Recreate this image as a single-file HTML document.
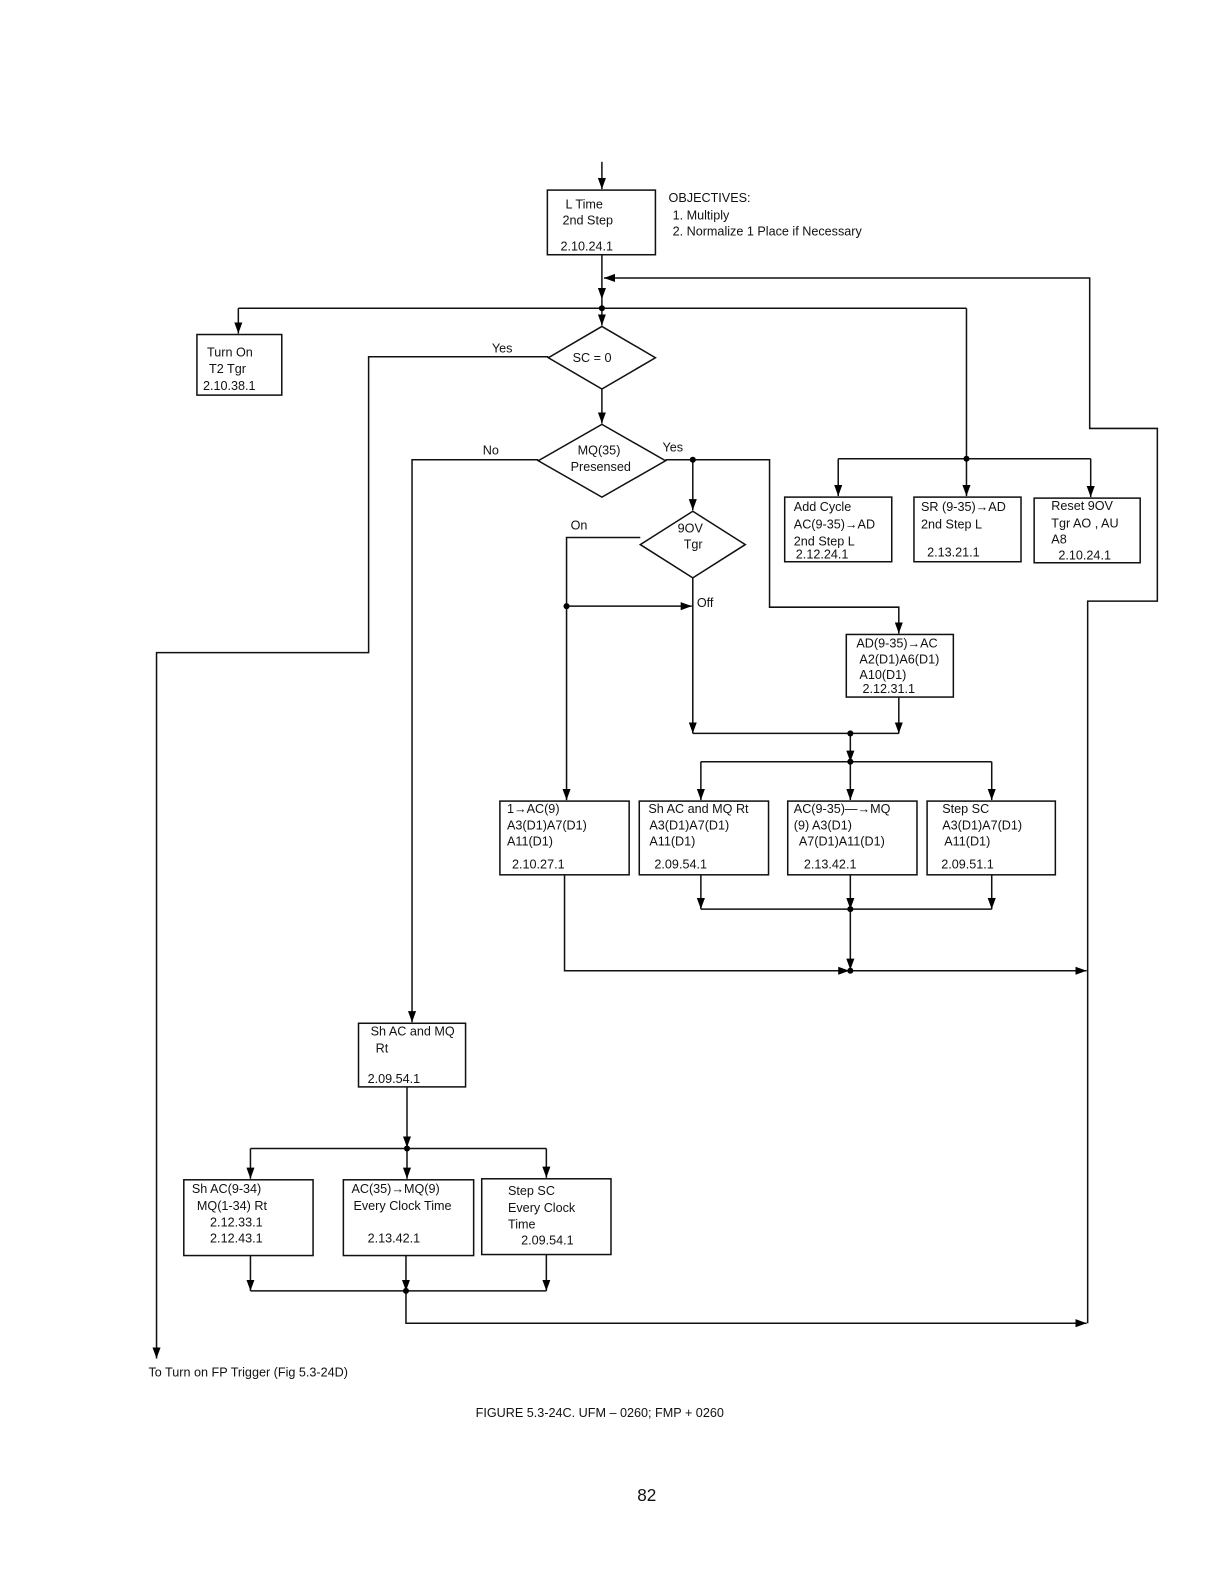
<!DOCTYPE html>
<html><head><meta charset="utf-8"><style>
html,body{margin:0;padding:0;background:#fff;}
svg{display:block;}
text{font-family:"Liberation Sans","DejaVu Sans",sans-serif;font-size:12.5px;fill:#111;}
</style></head><body>
<svg width="1224" height="1584" viewBox="0 0 1212 1568" xmlns="http://www.w3.org/2000/svg">
<defs>
<marker id="a" markerUnits="userSpaceOnUse" markerWidth="12" markerHeight="10" refX="11" refY="5" orient="auto">
<path d="M0,1 L11,5 L0,9 Z" fill="#000"/></marker>
</defs>
<g fill="none" stroke="#111" stroke-width="1.5">
<!-- top -->
<line x1="596" y1="160" x2="596" y2="187" marker-end="url(#a)"/>
<rect x="542" y="188" width="107" height="64"/>
<line x1="596" y1="252" x2="596" y2="296" marker-end="url(#a)"/>
<line x1="596" y1="296" x2="596" y2="322" marker-end="url(#a)"/>
<!-- loop from right -->
<polyline points="1077,1310 1077,595 1146,595 1146,424 1079,424 1079,275 598,275" marker-end="url(#a)"/>
<!-- horizontal y=305 -->
<line x1="236" y1="305" x2="957" y2="305"/>
<line x1="236" y1="305" x2="236" y2="330" marker-end="url(#a)"/>
<rect x="195" y="331" width="84" height="60"/>
<line x1="957" y1="305" x2="957" y2="454"/>
<polyline points="830,454 1080,454"/>
<line x1="830" y1="454" x2="830" y2="491" marker-end="url(#a)"/>
<line x1="957" y1="454" x2="957" y2="491" marker-end="url(#a)"/>
<line x1="1080" y1="454" x2="1080" y2="492" marker-end="url(#a)"/>
<rect x="777" y="492" width="106" height="64"/>
<rect x="905" y="492" width="106" height="64"/>
<rect x="1024" y="493" width="105" height="64"/>
<!-- SC=0 -->
<polygon points="596,323 649,354 596,385 543,354"/>
<polyline points="543,353 365,353 365,646 155,646 155,1345" marker-end="url(#a)"/>
<line x1="596" y1="385" x2="596" y2="419" marker-end="url(#a)"/>
<!-- MQ -->
<polygon points="596,420 659,456 596,492 533,456"/>
<polyline points="533,455 408,455 408,1012" marker-end="url(#a)"/>
<polyline points="659,455 762,455 762,601 890,601 890,627" marker-end="url(#a)"/>
<line x1="686" y1="455" x2="686" y2="505" marker-end="url(#a)"/>
<!-- 9OV -->
<polygon points="686,506 738,539 686,572 634,539"/>
<polyline points="634,532 561,532 561,792" marker-end="url(#a)"/>
<line x1="561" y1="600" x2="685" y2="600" marker-end="url(#a)"/>
<line x1="686" y1="572" x2="686" y2="726" marker-end="url(#a)"/>
<rect x="838" y="628" width="106" height="62"/>
<line x1="890" y1="690" x2="890" y2="726" marker-end="url(#a)"/>
<line x1="686" y1="726" x2="890" y2="726"/>
<line x1="842" y1="726" x2="842" y2="754" marker-end="url(#a)"/>
<line x1="694" y1="754" x2="982" y2="754"/>
<line x1="694" y1="754" x2="694" y2="792" marker-end="url(#a)"/>
<line x1="842" y1="754" x2="842" y2="792" marker-end="url(#a)"/>
<line x1="982" y1="754" x2="982" y2="792" marker-end="url(#a)"/>
<rect x="495" y="793" width="128" height="73"/>
<rect x="633" y="793" width="128" height="73"/>
<rect x="780" y="793" width="128" height="73"/>
<rect x="918" y="793" width="127" height="73"/>
<line x1="694" y1="866" x2="694" y2="900" marker-end="url(#a)"/>
<line x1="842" y1="866" x2="842" y2="900" marker-end="url(#a)"/>
<line x1="982" y1="866" x2="982" y2="900" marker-end="url(#a)"/>
<line x1="694" y1="900" x2="982" y2="900"/>
<line x1="842" y1="900" x2="842" y2="960" marker-end="url(#a)"/>
<polyline points="559,866 559,961 841,961" marker-end="url(#a)"/>
<line x1="842" y1="961" x2="1076" y2="961" marker-end="url(#a)"/>
<!-- bottom left -->
<rect x="355" y="1013" width="106" height="63"/>
<line x1="403" y1="1076" x2="403" y2="1136" marker-end="url(#a)"/>
<line x1="248" y1="1137" x2="541" y2="1137"/>
<line x1="248" y1="1137" x2="248" y2="1167" marker-end="url(#a)"/>
<line x1="403" y1="1137" x2="403" y2="1167" marker-end="url(#a)"/>
<line x1="541" y1="1137" x2="541" y2="1166" marker-end="url(#a)"/>
<rect x="182" y="1168" width="128" height="75"/>
<rect x="340" y="1168" width="129" height="75"/>
<rect x="477" y="1167" width="128" height="75"/>
<line x1="248" y1="1243" x2="248" y2="1278" marker-end="url(#a)"/>
<line x1="402" y1="1243" x2="402" y2="1278" marker-end="url(#a)"/>
<line x1="541" y1="1242" x2="541" y2="1278" marker-end="url(#a)"/>
<line x1="248" y1="1278" x2="541" y2="1278"/>
<polyline points="402,1278 402,1310 1076,1310" marker-end="url(#a)"/>
</g>
<g fill="#000">
<circle cx="596" cy="305" r="3"/><circle cx="957" cy="454" r="3"/>
<circle cx="686" cy="455" r="3"/><circle cx="561" cy="600" r="3"/>
<circle cx="842" cy="726" r="3"/><circle cx="842" cy="754" r="3"/>
<circle cx="842" cy="900" r="3"/><circle cx="842" cy="961" r="3"/>
<circle cx="403" cy="1137" r="3"/><circle cx="402" cy="1278" r="3"/>
</g>
<text x="560" y="206">L Time</text>
<text x="557" y="222">2nd Step</text>
<text x="555" y="248">2.10.24.1</text>
<text x="662" y="200">OBJECTIVES:</text>
<text x="666" y="217">1.  Multiply</text>
<text x="666" y="233">2.  Normalize 1 Place if Necessary</text>
<text x="205" y="353">Turn On</text>
<text x="207" y="369">T2 Tgr</text>
<text x="201" y="386">2.10.38.1</text>
<text x="487" y="349">Yes</text>
<text x="567" y="358">SC = 0</text>
<text x="478" y="450">No</text>
<text x="572" y="450">MQ(35)</text>
<text x="565" y="466">Presensed</text>
<text x="656" y="447">Yes</text>
<text x="671" y="527">9OV</text>
<text x="677" y="543">Tgr</text>
<text x="565" y="524">On</text>
<text x="690" y="601">Off</text>
<text x="786" y="506">Add Cycle</text>
<text x="786" y="523">AC(9-35)→AD</text>
<text x="786" y="540">2nd Step L</text>
<text x="788" y="553">2.12.24.1</text>
<text x="912" y="506">SR (9-35)→AD</text>
<text x="912" y="523">2nd Step L</text>
<text x="918" y="551">2.13.21.1</text>
<text x="1041" y="505">Reset 9OV</text>
<text x="1041" y="522">Tgr AO , AU</text>
<text x="1041" y="538">A8</text>
<text x="1048" y="554">2.10.24.1</text>
<text x="848" y="641">AD(9-35)→AC</text>
<text x="851" y="657">A2(D1)A6(D1)</text>
<text x="851" y="672">A10(D1)</text>
<text x="854" y="686">2.12.31.1</text>
<text x="502" y="805">1→AC(9)</text>
<text x="502" y="821">A3(D1)A7(D1)</text>
<text x="502" y="837">A11(D1)</text>
<text x="507" y="860">2.10.27.1</text>
<text x="642" y="805">Sh AC and MQ Rt</text>
<text x="643" y="821">A3(D1)A7(D1)</text>
<text x="643" y="837">A11(D1)</text>
<text x="648" y="860">2.09.54.1</text>
<text x="786" y="805">AC(9-35)—→MQ</text>
<text x="786" y="821">(9) A3(D1)</text>
<text x="791" y="837">A7(D1)A11(D1)</text>
<text x="796" y="860">2.13.42.1</text>
<text x="933" y="805">Step SC</text>
<text x="933" y="821">A3(D1)A7(D1)</text>
<text x="935" y="837">A11(D1)</text>
<text x="932" y="860">2.09.51.1</text>
<text x="367" y="1025">Sh AC and MQ</text>
<text x="372" y="1042">Rt</text>
<text x="364" y="1072">2.09.54.1</text>
<text x="190" y="1181">Sh AC(9-34)</text>
<text x="195" y="1198">MQ(1-34) Rt</text>
<text x="208" y="1214">2.12.33.1</text>
<text x="208" y="1230">2.12.43.1</text>
<text x="348" y="1181">AC(35)→MQ(9)</text>
<text x="350" y="1198">Every Clock Time</text>
<text x="364" y="1230">2.13.42.1</text>
<text x="503" y="1183">Step SC</text>
<text x="503" y="1200">Every Clock</text>
<text x="503" y="1216">Time</text>
<text x="516" y="1232">2.09.54.1</text>
<text x="147" y="1363">To Turn on FP Trigger (Fig 5.3-24D)</text>
<text x="471" y="1403">FIGURE 5.3-24C.  UFM – 0260; FMP + 0260</text>
<text x="631" y="1486" style="font-size:17px">82</text>
</svg>
</body></html>
